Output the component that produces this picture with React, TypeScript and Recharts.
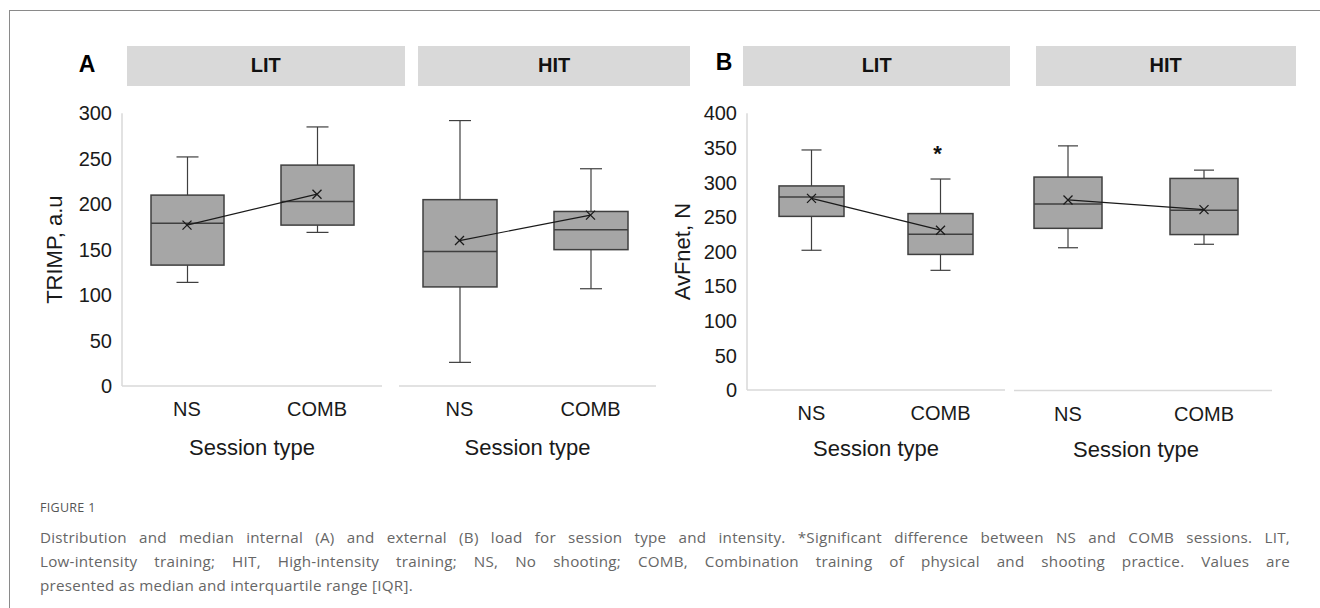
import React from 'react';
import { ComposedChart, Bar, Line, XAxis, YAxis, Label } from 'recharts';

const categories = ['NS', 'COMB'];

// Panel A: TRIMP, a.u (internal load)
const aLitMin = [114, 169];
const aLitQ1 = [133, 177];
const aLitMedian = [179, 203];
const aLitQ3 = [210, 243];
const aLitMax = [252, 285];
const aLitMean = [177, 211];

const aHitMin = [26, 107];
const aHitQ1 = [109, 150];
const aHitMedian = [148, 172];
const aHitQ3 = [205, 192];
const aHitMax = [292, 239];
const aHitMean = [160, 188];

// Panel B: AvFnet, N (external load)
const bLitMin = [202, 173];
const bLitQ1 = [251, 196];
const bLitMedian = [279, 225];
const bLitQ3 = [295, 255];
const bLitMax = [347, 305];
const bLitMean = [277, 231];
const bLitSig = [null, 349];

const bHitMin = [206, 211];
const bHitQ1 = [234, 225];
const bHitMedian = [269, 260];
const bHitQ3 = [308, 306];
const bHitMax = [353, 318];
const bHitMean = [275, 261];

const aTicks = [0, 50, 100, 150, 200, 250, 300];
const bTicks = [0, 50, 100, 150, 200, 250, 300, 350, 400];

const captionTitle = 'FIGURE 1';
const captionLines = [
  'Distribution and median internal (A) and external (B) load for session type and intensity. *Significant difference between NS and COMB sessions. LIT,',
  'Low-intensity training; HIT, High-intensity training; NS, No shooting; COMB, Combination training of physical and shooting practice. Values are',
  'presented as median and interquartile range [IQR].',
];

type Row = {
  cat: string; min: number; q1: number; median: number; q3: number; max: number; mean: number; sig: number | null;
};

function buildRows(min: number[], q1: number[], med: number[], q3: number[], max: number[], mean: number[], sig?: (number | null)[]): Row[] {
  return categories.map((cat, i) => ({
    cat, min: min[i], q1: q1[i], median: med[i], q3: q3[i], max: max[i], mean: mean[i], sig: sig ? sig[i] : null,
  }));
}

const FONT = '"Liberation Sans", Arial, sans-serif';
const BOX_FILL = '#a6a6a6';
const BOX_STROKE = '#3f3f3f';
const AXIS_COLOR = '#d9d9d9';

function BoxShape(props: any) {
  const { x, y, width, height, payload, cap } = props;
  if (x == null || y == null || !payload) return <g />;
  const top = Math.min(y, y + height);
  const h = Math.abs(height);
  const span = payload.max - payload.min;
  const toY = (v: number) => top + (h * (payload.max - v)) / span;
  const cx = x + width / 2;
  const yMax = toY(payload.max);
  const yMin = toY(payload.min);
  const yQ1 = toY(payload.q1);
  const yQ3 = toY(payload.q3);
  const yMed = toY(payload.median);
  return (
    <g>
      <line x1={cx} x2={cx} y1={yMax} y2={yQ3} stroke={BOX_STROKE} strokeWidth={1.2} />
      <line x1={cx} x2={cx} y1={yQ1} y2={yMin} stroke={BOX_STROKE} strokeWidth={1.2} />
      <line x1={cx - cap / 2} x2={cx + cap / 2} y1={yMax} y2={yMax} stroke={BOX_STROKE} strokeWidth={1.2} />
      <line x1={cx - cap / 2} x2={cx + cap / 2} y1={yMin} y2={yMin} stroke={BOX_STROKE} strokeWidth={1.2} />
      <rect x={x} y={yQ3} width={width} height={yQ1 - yQ3} fill={BOX_FILL} stroke={BOX_STROKE} strokeWidth={1.5} />
      <line x1={x} x2={x + width} y1={yMed} y2={yMed} stroke={BOX_STROKE} strokeWidth={1.5} />
    </g>
  );
}

function MeanDot(props: any) {
  const { cx, cy, index } = props;
  if (cx == null || cy == null) return <g key={`m-${index}`} />;
  const s = 4.5;
  return (
    <path
      key={`m-${index}`}
      d={`M${cx - s},${cy - s}L${cx + s},${cy + s}M${cx + s},${cy - s}L${cx - s},${cy + s}`}
      stroke="#1a1a1a"
      strokeWidth={1.3}
      fill="none"
    />
  );
}

function SigDot(props: any) {
  const { cx, cy, index, payload } = props;
  if (cx == null || cy == null || !payload || payload.sig == null) return <g key={`s-${index}`} />;
  return (
    <text key={`s-${index}`} x={cx - 3} y={cy + 12} textAnchor="middle" fontSize={22} fontWeight="bold" fill="#111" fontFamily={FONT}>
      *
    </text>
  );
}

type PanelProps = {
  left: number; top: number; width: number; height: number; rows: Row[];
  domain: [number, number]; ticks: number[]; showY: boolean; yTitle?: string; yAxisWidth?: number;
  yTitleX?: number; barSize: number; cap: number; padLeft: number; titleDx: number; titleY: number; sig?: boolean;
};

function Panel(p: PanelProps) {
  return (
    <div style={{ position: 'absolute', left: p.left, top: p.top }}>
      <ComposedChart width={p.width} height={p.height} data={p.rows} margin={{ top: 13.3, right: 0, bottom: 0, left: 0 }}>
        <XAxis
          dataKey="cat"
          type="category"
          axisLine={{ stroke: AXIS_COLOR, strokeWidth: 1.5 }}
          tickLine={false}
          tickSize={6}
          tickMargin={10}
          tick={{ fontSize: 20, fill: '#1a1a1a', fontFamily: FONT }}
          height={94}
          padding={{ left: p.padLeft, right: 0 }}
        >
          <Label
            content={(lp: any) => {
              const vb = lp.viewBox || {};
              return (
                <text x={vb.x + vb.width / 2 + p.titleDx} y={vb.y + p.titleY} textAnchor="middle" fontSize={22} fill="#1a1a1a" fontFamily={FONT}>
                  Session type
                </text>
              );
            }}
          />
        </XAxis>
        {p.showY ? (
          <YAxis
            type="number"
            domain={p.domain}
            ticks={p.ticks}
            width={p.yAxisWidth}
            axisLine={{ stroke: AXIS_COLOR, strokeWidth: 1.5 }}
            tickLine={false}
            tickSize={6}
            tickMargin={4}
            interval={0}
            tick={{ fontSize: 20, fill: '#1a1a1a', fontFamily: FONT }}
          >
            <Label
              content={(lp: any) => {
                const vb = lp.viewBox || {};
                const tx = vb.x + (p.yTitleX || 0);
                const ty = vb.y + vb.height / 2;
                return (
                  <text x={tx} y={ty} transform={`rotate(-90 ${tx} ${ty})`} textAnchor="middle" fontSize={22} fill="#1a1a1a" fontFamily={FONT}>
                    {p.yTitle}
                  </text>
                );
              }}
            />
          </YAxis>
        ) : (
          <YAxis type="number" hide domain={p.domain} ticks={p.ticks} />
        )}
        <Bar
          dataKey={(d: Row) => [d.min, d.max]}
          barSize={p.barSize}
          isAnimationActive={false}
          shape={(sp: any) => <BoxShape {...sp} cap={p.cap} />}
        />
        <Line dataKey="mean" stroke="#1a1a1a" strokeWidth={1.2} dot={MeanDot} activeDot={false} isAnimationActive={false} />
        {p.sig ? (
          <Line dataKey="sig" stroke="none" dot={SigDot} activeDot={false} isAnimationActive={false} />
        ) : null}
      </ComposedChart>
    </div>
  );
}

function Strip({ left, right, text }: { left: number; right: number; text: string }) {
  return (
    <div
      style={{
        position: 'absolute', left, top: 45.7, width: right - left, height: 40, background: '#d9d9d9',
        display: 'flex', alignItems: 'center', justifyContent: 'center', fontWeight: 'bold', fontSize: 20, color: '#111', fontFamily: FONT,
      }}
    >
      {text}
    </div>
  );
}

export default function App() {
  const aLit = buildRows(aLitMin, aLitQ1, aLitMedian, aLitQ3, aLitMax, aLitMean);
  const aHit = buildRows(aHitMin, aHitQ1, aHitMedian, aHitQ3, aHitMax, aHitMean);
  const bLit = buildRows(bLitMin, bLitQ1, bLitMedian, bLitQ3, bLitMax, bLitMean, bLitSig);
  const bHit = buildRows(bHitMin, bHitQ1, bHitMedian, bHitQ3, bHitMax, bHitMean);

  return (
    <div style={{ position: 'absolute', left: 0, top: 0, width: 1320, height: 608, overflow: 'hidden', background: '#fff', fontFamily: FONT }}>
      <div style={{ position: 'absolute', left: 9, top: 10, width: 1400, height: 700, borderLeft: '1px solid #8a8a8a', borderTop: '1px solid #8a8a8a' }} />

      <div style={{ position: 'absolute', left: 76, top: 51, width: 22, textAlign: 'center', fontWeight: 'bold', fontSize: 23, color: '#000' }}>A</div>
      <div style={{ position: 'absolute', left: 713, top: 49, width: 22, textAlign: 'center', fontWeight: 'bold', fontSize: 23, color: '#000' }}>B</div>

      <Strip left={126.7} right={405} text="LIT" />
      <Strip left={418.3} right={690} text="HIT" />
      <Strip left={743.3} right={1010} text="LIT" />
      <Strip left={1035.7} right={1295.7} text="HIT" />

      <Panel left={20} top={100} width={362} height={380} rows={aLit} domain={[0, 300]} ticks={aTicks} showY yTitle="TRIMP, a.u" yAxisWidth={102} yTitleX={42} barSize={73} cap={22} padLeft={0} titleDx={0} titleY={68.6} />
      <Panel left={399} top={100} width={257} height={380} rows={aHit} domain={[0, 300]} ticks={aTicks} showY={false} barSize={74} cap={22} padLeft={-5} titleDx={0} titleY={68.6} />
      <Panel left={647} top={100} width={358} height={384} rows={bLit} domain={[0, 400]} ticks={bTicks} showY yTitle="AvFnet, N" yAxisWidth={100} yTitleX={43} barSize={65} cap={20} padLeft={0} titleDx={0} titleY={66} sig />
      <Panel left={1014} top={100} width={258} height={384.5} rows={bHit} domain={[0, 400]} ticks={bTicks} showY={false} barSize={68} cap={20} padLeft={-14} titleDx={-7} titleY={66} />

      <div style={{ position: 'absolute', left: 40, top: 499, fontFamily: '"Open Sans", "Noto Sans", sans-serif', fontSize: 12.5, color: '#555', letterSpacing: 0.3 }}>
        {captionTitle}
      </div>
      {captionLines.map((line, i) => (
        <div
          key={i}
          style={{
            position: 'absolute', left: 40, top: 526 + i * 24, width: 1250, fontFamily: '"Open Sans", "Noto Sans", sans-serif',
            fontSize: 15.2, letterSpacing: 0.25, color: '#666', lineHeight: '22px', whiteSpace: 'nowrap',
            textAlign: 'justify', textAlignLast: i < 2 ? 'justify' : 'left',
          }}
        >
          {line}
        </div>
      ))}
    </div>
  );
}
